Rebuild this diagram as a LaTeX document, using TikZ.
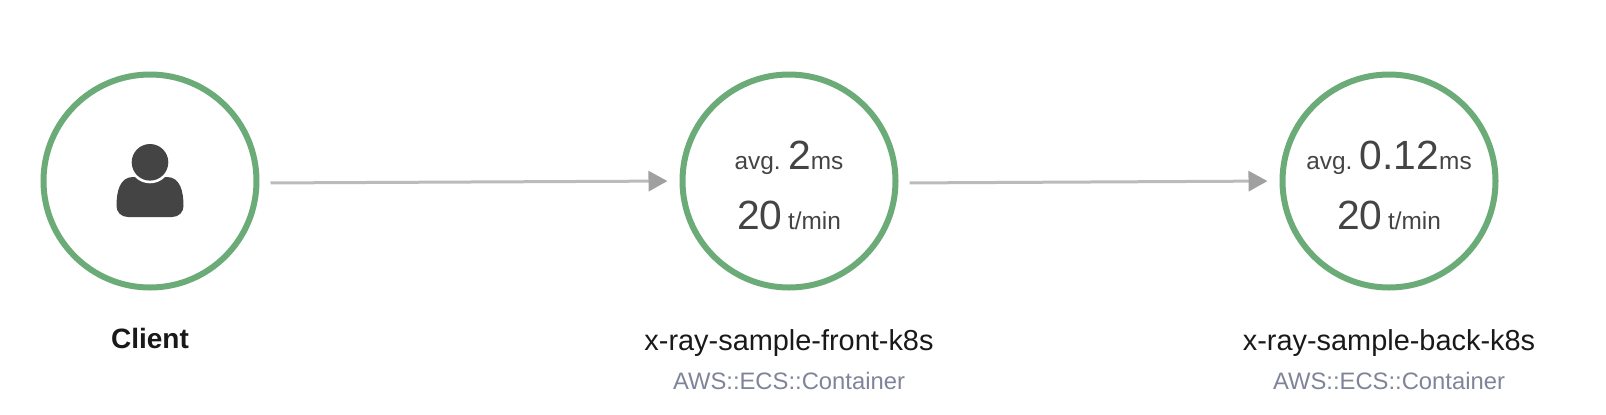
\documentclass[tikz,border=0pt]{standalone}
\usepackage{fontspec}
\setmainfont{Liberation Sans}
\usetikzlibrary{arrows.meta,positioning}
\definecolor{ringgreen}{HTML}{6AAB78}
\definecolor{inkgrey}{HTML}{444444}
\definecolor{subgrey}{HTML}{80849A}
\definecolor{linegrey}{HTML}{BBBBBB}
\definecolor{tipgrey}{HTML}{A0A0A0}
\newcommand{\unitfont}[1]{{\fontsize{12.2}{14}\selectfont #1}}
\newcommand{\valfont}[1]{{\fontsize{20.4}{24}\selectfont #1}}
\tikzset{
    %Define style for rings
    ring/.style={
           circle,
           draw=ringgreen,
           line width=3pt,
           minimum size=106.5pt,
           inner sep=0pt},
    %Define style for the figures in a ring
    metric/.style={
           inner sep=0pt,
           yshift=-2.3pt,
           text=inkgrey,
           align=center},
    %Define style for labels
    title/.style={
           inner sep=0pt,
           font=\fontsize{14.45}{16}\selectfont,
           text=black!90},
    subtitle/.style={
           inner sep=0pt,
           font=\fontsize{11.9}{14}\selectfont,
           text=subgrey},
    % Define arrow style
    pil/.style={
           -{Triangle[length=9.5pt,width=10pt,color=tipgrey]},
           line width=1.5pt,
           draw=linegrey,
           shorten <=5.5pt,
           shorten >=6pt,}
}
\begin{document}
\begin{tikzpicture}[x=.5pt,y=.5pt]
 \useasboundingbox (0,0) rectangle (1606,-414);
 \node[ring](client) at (150,-181){};
 \node[ring,right=210pt of client](front){};
 \node[ring,right=190.5pt of front](back){};
 \node[metric](frontmetric) at (front){\unitfont{avg.} \valfont{2}\unitfont{ms}\\[12.5pt]\valfont{20} \unitfont{t/min}};
 \node[metric](backmetric) at (back){\unitfont{avg.} \valfont{0.12}\unitfont{ms}\\[12.5pt]\valfont{20} \unitfont{t/min}};
 \node[title,below=18.5pt of client,font=\fontsize{14}{16}\selectfont\bfseries](clientname){Client};
 \node[title,below=19.5pt of front](frontname){x-ray-sample-front-k8s};
 \node[subtitle,below=7.5pt of frontname](fronttype){AWS::ECS::Container};
 \node[title,below=19.5pt of back](backname){x-ray-sample-back-k8s};
 \node[subtitle,below=7.5pt of backname](backtype){AWS::ECS::Container};
 \draw[pil] ([yshift=-1pt]client.east) -- (front.west);
 \draw[pil] ([yshift=-1pt]front.east) -- (back.west);
 % person icon
 \begin{scope}[shift={(client.center)}]
  \fill[inkgrey] (-22,-36) -- (22,-36) .. controls (29,-36) and (33.5,-31) .. (33.5,-25)
   .. controls (33.5,-10) and (30,4) .. (17,4) -- (-17,4)
   .. controls (-30,4) and (-33.5,-10) .. (-33.5,-25)
   .. controls (-33.5,-31) and (-29,-36) .. (-22,-36) -- cycle;
  \fill[white] (0,18.7) circle (21);
  \fill[inkgrey] (0,18.7) circle (18.3);
 \end{scope}
\end{tikzpicture}
\end{document}
